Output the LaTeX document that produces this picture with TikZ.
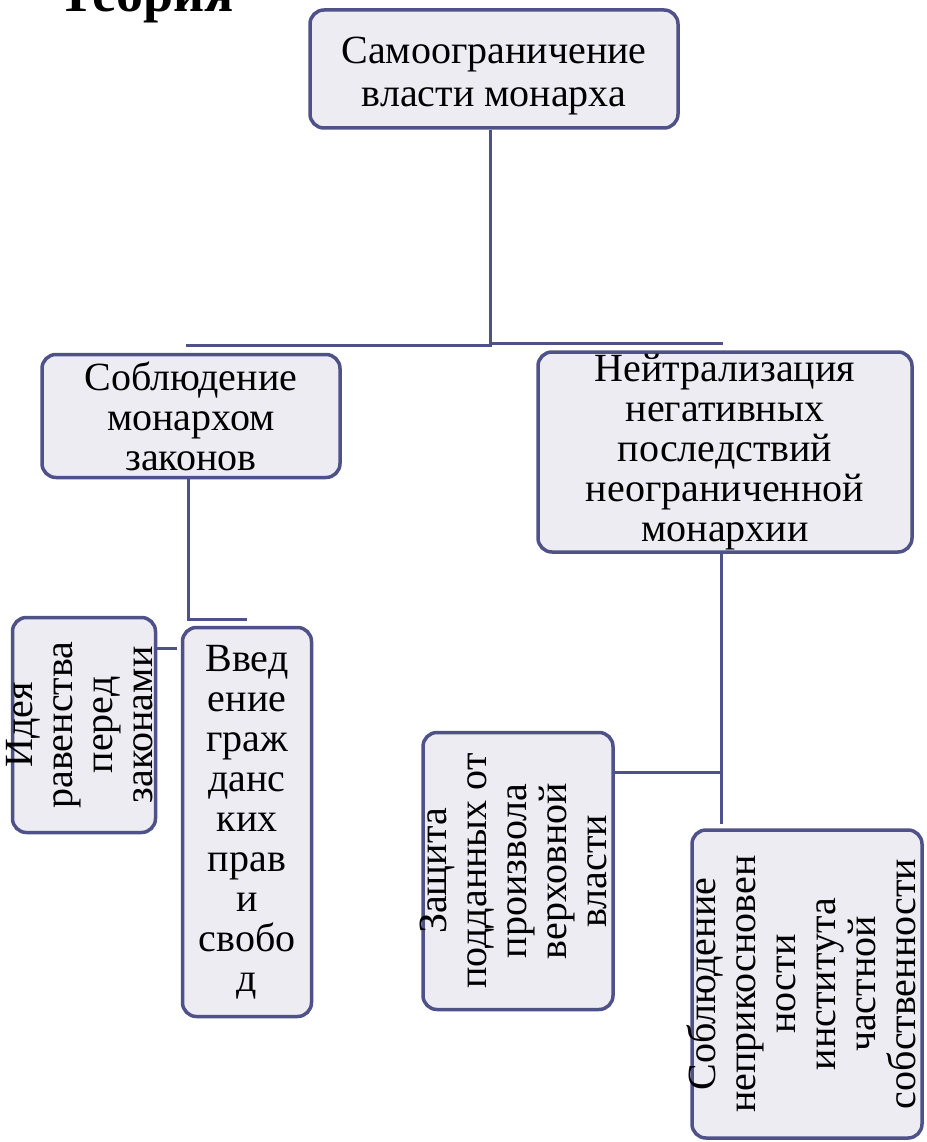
\documentclass[tikz,border=0pt]{standalone}
\usepackage{fontspec}
\setmainfont{Liberation Serif}
\usepackage{graphicx}
\usetikzlibrary{positioning, calc}
\definecolor{boxedge}{HTML}{4F5189}
\definecolor{boxfill}{HTML}{EDECF3}
\newcommand{\uptext}[1]{\makebox[0pt]{\rotatebox{90}{\begin{tabular}{@{}c@{}}#1\end{tabular}}}}
\tikzset{block/.style={rectangle, rounded corners=14pt, draw=boxedge, fill=boxfill, line width=3.5pt, inner sep=0pt, align=center, font=\fontsize{40}{40}\selectfont},
         link/.style={draw=boxedge, line width=3pt}}

\begin{document}
\begin{tikzpicture}[x=1pt, y=-1pt]
        \useasboundingbox (0,0) rectangle (926,1142);
        \node (title)[anchor=base west, font=\bfseries\fontsize{54}{54}\selectfont] at (55,12) {Теория};
        \node (topb)[block, minimum width=368pt, minimum height=118pt, font=\fontsize{40}{43}\selectfont] at (494,69) {\rule{0pt}{40pt}Самоограничение\\власти монарха};
        \node (lawb)[block, minimum width=298pt, minimum height=123pt] at (191,416) {Соблюдение\\монархом\\законов};
        \node (neutb)[block, minimum width=374pt, minimum height=200pt] at (725,452) {Нейтрализация\\негативных\\последствий\\неограниченной\\монархии};
        \node (idea)[block, minimum width=143pt, minimum height=215pt] at (84,725) {\uptext{Идея\\равенства\\перед\\законами}};
        \node (civil)[block, minimum width=129pt, minimum height=389pt] at (247,822) {Введ\\ение\\граж\\данс\\ких\\прав\\и\\свобо\\д};
        \node (protect)[block, minimum width=190pt, minimum height=277pt] at (518,871) {\uptext{Защита\\подданных от\\произвола\\верховной\\власти}};
        \node (property)[block, minimum width=230pt, minimum height=308pt] at (807,984) {\uptext{Соблюдение\\неприкосновен\\ности\\института\\частной\\собственности}};
        % branches from the top box
        \draw [link] ([xshift=-4pt]topb.south) |- ([xshift=-5pt, yshift=7pt]lawb.north);
        \draw [link] ([xshift=-4pt]topb.south) |- ([xshift=-2pt, yshift=7pt]neutb.north);
        % left branch
        \draw [link] ([xshift=-3pt]lawb.south) |- ([yshift=6pt]civil.north);
        \coordinate (itap) at ([yshift=77pt]idea.east);
        \draw [link] (itap) -- ([xshift=-4pt]itap -| civil.west);
        % right branch
        \coordinate (rtrunk) at ([xshift=-4pt]neutb.south);
        \draw [link] (rtrunk) -- ([yshift=4pt]rtrunk |- property.north);
        \coordinate (ptap) at ([yshift=99pt]protect.east);
        \draw [link] (ptap) -- (ptap -| rtrunk);
    \end{tikzpicture}
\end{document}
